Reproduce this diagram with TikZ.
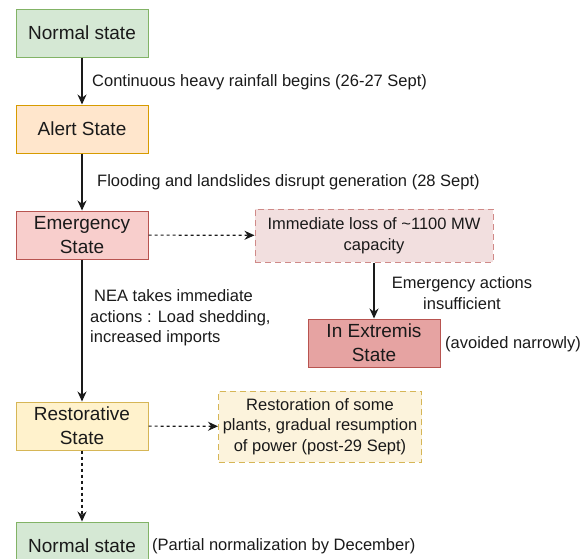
\documentclass[tikz,border=0pt]{standalone}
\usepackage{fontspec}
\setmainfont{Liberation Sans}
\usetikzlibrary{arrows.meta}
\definecolor{greenF}{HTML}{D5E8D4}
\definecolor{greenD}{HTML}{82B366}
\definecolor{orangeF}{HTML}{FFE6CC}
\definecolor{orangeD}{HTML}{D79B00}
\definecolor{redF}{HTML}{F8CECC}
\definecolor{redD}{HTML}{B85450}
\definecolor{lossF}{HTML}{F2DFDF}
\definecolor{lossD}{HTML}{D08A88}
\definecolor{extF}{HTML}{E6A3A2}
\definecolor{yelF}{HTML}{FFF2CC}
\definecolor{yelD}{HTML}{D6B656}
\definecolor{yel2F}{HTML}{FCF3DC}
\definecolor{txt}{HTML}{1A1A1A}
\newcommand{\bigtxt}{\fontsize{19}{24}\selectfont}
\newcommand{\lbltxt}{\fontsize{16.5}{20.5}\selectfont}
\begin{document}
\begin{tikzpicture}[x=1pt,y=-1pt,
  statebox/.style={draw, line width=1pt, minimum width=132pt, minimum height=48pt, inner sep=0pt, align=center, font=\bigtxt, text=txt},
  lbl/.style={font=\lbltxt, text=txt, inner sep=0pt},
  arr/.style={draw=txt, line width=1.15pt, -{Stealth[length=10pt,width=9pt]}},
  darr/.style={arr, dash pattern=on 3pt off 3pt}]
\clip (0,0) rectangle (588,558);
\useasboundingbox (0,0) rectangle (588,558);
\node[statebox, fill=greenF, draw=greenD] (n1) at (82,33) {Normal state};
\node[statebox, fill=orangeF, draw=orangeD] (alert) at (82,129) {Alert State};
\node[statebox, fill=redF, draw=redD] (emer) at (82,235) {Emergency\\State};
\node[statebox, fill=lossF, draw=lossD, dash pattern=on 6pt off 4pt, minimum width=238pt, minimum height=53pt, font=\lbltxt] (loss) at (374,235.5) {Immediate loss of \textasciitilde1100 MW\\capacity};
\node[statebox, fill=extF, draw=redD] (ext) at (374,343) {In Extremis\\State};
\node[statebox, fill=yelF, draw=yelD] (rest) at (82,426) {Restorative\\State};
\node[statebox, fill=yel2F, draw=yelD, dash pattern=on 6pt off 4pt, minimum width=203pt, minimum height=71pt, font=\lbltxt] (restn) at (320,426.5) {Restoration of some\\plants, gradual resumption\\of power (post-29 Sept)};
\node[statebox, fill=greenF, draw=greenD] (n2) at (82,546) {Normal state};

\draw[arr] (n1) -- (alert);
\draw[arr] (alert) -- (emer);
\draw[darr] (emer) -- (loss);
\draw[arr] (loss) -- (ext);
\draw[arr] (emer) -- (rest);
\draw[darr] (rest) -- (restn);
\draw[darr] (rest) -- (n2);

\node[lbl, anchor=west] (l1) at (92,82) {Continuous heavy rainfall begins (26-27 Sept)};
\node[lbl, anchor=west] (l2) at (97,182) {Flooding and landslides disrupt generation (28 Sept)};
\node[lbl, anchor=west, align=left] (l3) at (90,318) {\hspace{4pt}NEA takes immediate\\actions : Load shedding,\\increased imports};
\node[lbl, align=center] (l4) at (462,293) {Emergency actions\\insufficient};
\node[lbl, anchor=west] (l5) at (445,344) {(avoided narrowly)};
\node[lbl, anchor=west] (l6) at (152,546) {(Partial normalization by December)};
\end{tikzpicture}
\end{document}
